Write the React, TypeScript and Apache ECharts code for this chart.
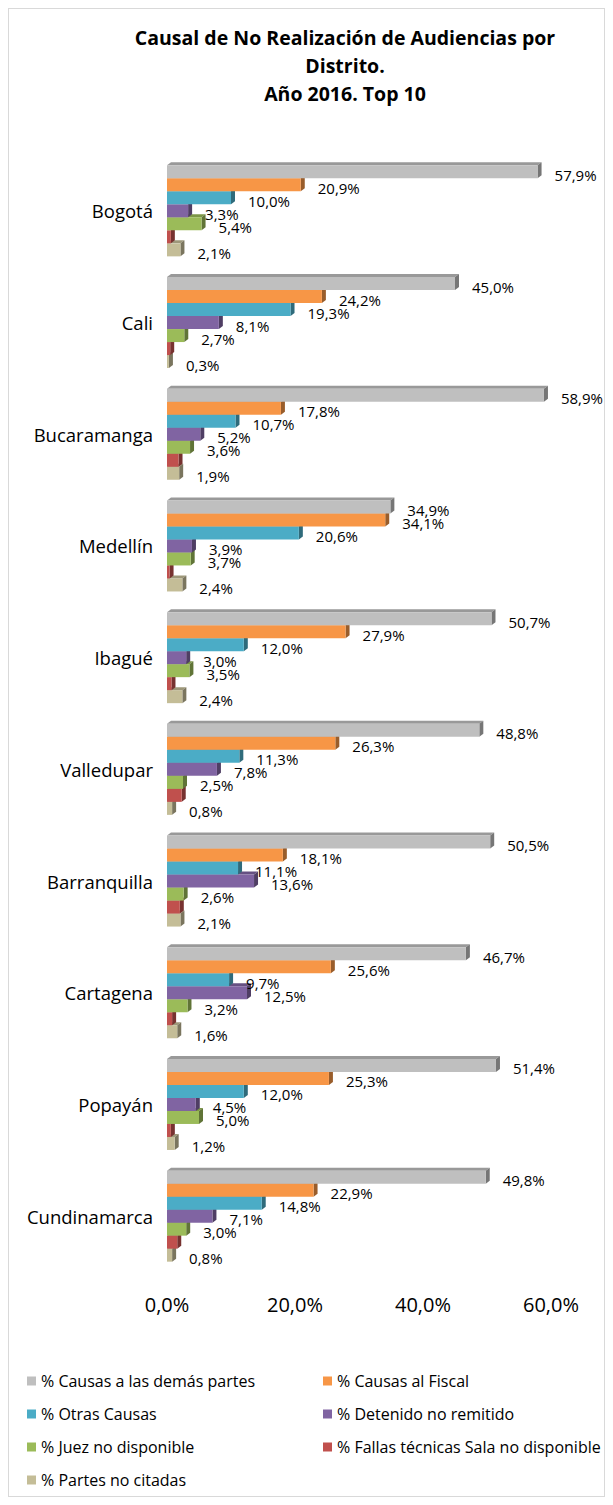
import React, { useEffect, useRef } from "react";
import * as echarts from "echarts";

const categories = ["Bogotá", "Cali", "Bucaramanga", "Medellín", "Ibagué", "Valledupar", "Barranquilla", "Cartagena", "Popayán", "Cundinamarca"];
const seriesNames = [
  "% Causas a las demás partes",
  "% Causas al Fiscal",
  "% Otras Causas",
  "% Detenido no remitido",
  "% Juez no disponible",
  "% Fallas técnicas Sala no disponible",
  "% Partes no citadas",
];
const demasPartes = [57.9, 45.0, 58.9, 34.9, 50.7, 48.8, 50.5, 46.7, 51.4, 49.8];
const fiscal = [20.9, 24.2, 17.8, 34.1, 27.9, 26.3, 18.1, 25.6, 25.3, 22.9];
const otras = [10.0, 19.3, 10.7, 20.6, 12.0, 11.3, 11.1, 9.7, 12.0, 14.8];
const detenido = [3.3, 8.1, 5.2, 3.9, 3.0, 7.8, 13.6, 12.5, 4.5, 7.1];
const juez = [5.4, 2.7, 3.6, 3.7, 3.5, 2.5, 2.6, 3.2, 5.0, 3.0];
const fallas = [0.6, 0.5, 1.8, 0.4, 0.7, 2.3, 2.0, 0.8, 0.6, 1.6];
const partes = [2.1, 0.3, 1.9, 2.4, 2.4, 0.8, 2.1, 1.6, 1.2, 0.8];
const seriesValues = [demasPartes, fiscal, otras, detenido, juez, fallas, partes];
const showLabel = [true, true, true, true, true, false, true];
const colors = ["#BFBFBF", "#F79646", "#4BACC6", "#8064A2", "#9BBB59", "#C0504D", "#C4BD97"];
const xTicks = [0, 20, 40, 60];

const FONT = "'Open Sans', 'Noto Sans', sans-serif";
const N = 7;
const FILL = 0.815;
const DX = 4;
const DY = 3;

function shade(hex: string, f: number) {
  const n = parseInt(hex.slice(1), 16);
  const r = Math.round(((n >> 16) & 255) * f);
  const g = Math.round(((n >> 8) & 255) * f);
  const b = Math.round((n & 255) * f);
  return `rgb(${r},${g},${b})`;
}
const fmt = (v: number) => v.toFixed(1).replace(".", ",") + "%";

export default function App() {
  const ref = useRef<HTMLDivElement>(null);
  useEffect(() => {
    if (!ref.current) return;
    const chart = echarts.init(ref.current, undefined, { renderer: "svg" });

    const geom = (api: any, si: number) => {
      const cat = api.value(0);
      const val = api.value(1);
      const c = api.coord([0, cat]);
      const e = api.coord([val, cat]);
      const band = api.size([0, 1])[1];
      const bh = (band * FILL) / N;
      const yTop = c[1] - (band * FILL) / 2 + si * bh;
      return { x0: c[0], x1: e[0], yTop, bh, val };
    };

    const barSeries = seriesNames.map((name, si) => ({
      type: "custom",
      name,
      z: 2 + (N - si),
      itemStyle: { color: colors[si] },
      encode: { x: 1, y: 0 },
      data: categories.map((_, ci) => [ci, seriesValues[si][ci]]),
      renderItem: (params: any, api: any) => {
        const { x0, x1, yTop, bh } = geom(api, si);
        const col = colors[si];
        return {
          type: "group",
          children: [
            {
              type: "polygon",
              shape: { points: [[x0, yTop], [x0 + DX, yTop - DY], [x1 + DX, yTop - DY], [x1, yTop]] },
              style: { fill: shade(col, 0.8) },
            },
            {
              type: "polygon",
              shape: { points: [[x1, yTop], [x1 + DX, yTop - DY], [x1 + DX, yTop + bh - DY], [x1, yTop + bh]] },
              style: { fill: shade(col, 0.62) },
            },
            {
              type: "rect",
              shape: { x: x0, y: yTop, width: Math.max(0, x1 - x0), height: bh },
              style: { fill: col },
            },
          ],
        };
      },
    }));

    const labelSeries = seriesNames
      .map((name, si) => ({ name, si }))
      .filter((o) => showLabel[o.si])
      .map(({ si }) => ({
        type: "custom",
        name: "lbl" + si,
        z: 30,
        silent: true,
        encode: { x: 1, y: 0 },
        data: categories.map((_, ci) => [ci, seriesValues[si][ci]]),
        renderItem: (params: any, api: any) => {
          const { x1, yTop, bh, val } = geom(api, si);
          return {
            type: "text",
            x: x1 + 17,
            y: yTop + bh / 2 + 3,
            style: {
              text: fmt(val),
              fill: "#000",
              fontSize: 15,
              fontFamily: FONT,
              align: "left",
              verticalAlign: "middle",
            },
          };
        },
      }));

    // legend: 2 columns, rows 33px apart
    const legends = seriesNames.map((name, i) => ({
      orient: "horizontal",
      left: i % 2 === 0 ? 13 : 309,
      top: 1358 + Math.floor(i / 2) * 33,
      itemWidth: 9,
      itemHeight: 9,
      icon: "rect",
      selectedMode: false,
      data: [name],
      textStyle: { fontSize: 16, fontFamily: FONT, color: "#000", lineHeight: 18 },
    }));

    chart.setOption({
      animation: false,
      backgroundColor: "#fff",
      graphic: [
        {
          type: "text",
          x: 336,
          y: 14,
          style: {
            text: "Causal de No Realización de Audiencias por\nDistrito.\nAño 2016. Top 10",
            fill: "#000",
            fontSize: 19.5,
            fontWeight: "bold",
            fontFamily: FONT,
            lineHeight: 28,
            align: "center",
            verticalAlign: "top",
          },
        },
      ],
      grid: { left: 158, top: 146, width: 384, height: 1117, containLabel: false },
      xAxis: {
        type: "value",
        min: 0,
        max: 60,
        interval: 20,
        axisLine: { show: false },
        axisTick: { show: false },
        splitLine: { show: false },
        axisLabel: {
          margin: 22,
          fontSize: 20,
          fontFamily: FONT,
          color: "#000",
          formatter: (v: number) => (xTicks.includes(v) ? fmt(v) : ""),
        },
      },
      yAxis: {
        type: "category",
        inverse: true,
        data: categories,
        axisLine: { show: false },
        axisTick: { show: false },
        axisLabel: { margin: 14, fontSize: 18.5, fontFamily: FONT, color: "#000" },
      },
      legend: legends,
      series: [...barSeries, ...labelSeries],
    });
    return () => chart.dispose();
  }, []);

  return (
    <div style={{ width: 597, height: 1489, border: "1px solid #d9d9d9", boxSizing: "border-box" }}>
      <div ref={ref} style={{ width: 595, height: 1487 }} />
    </div>
  );
}
